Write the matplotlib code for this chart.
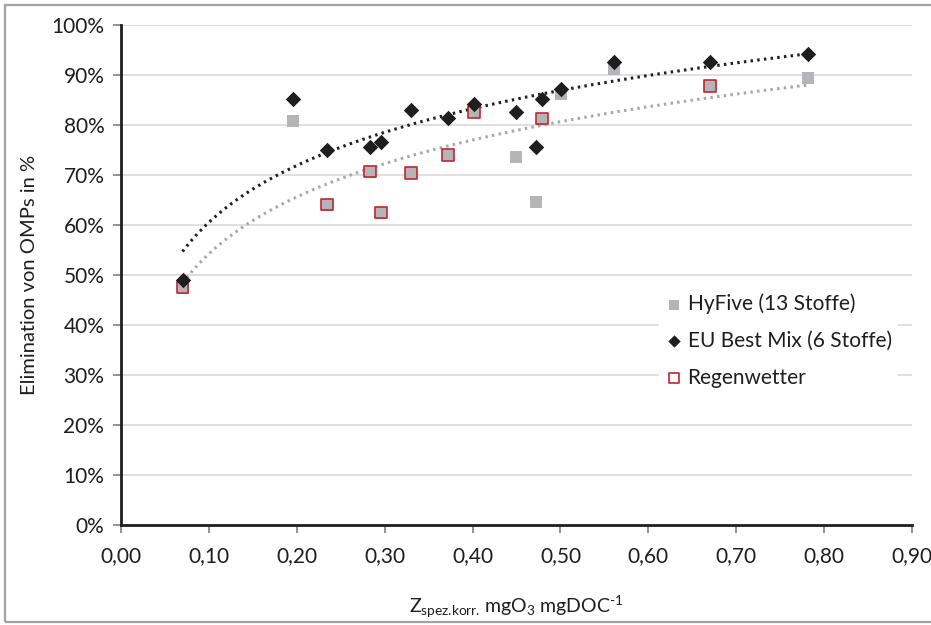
import numpy as np
import matplotlib
matplotlib.use("Agg")
import matplotlib.pyplot as plt
from matplotlib.patches import Rectangle
from matplotlib.ticker import FuncFormatter

plt.rcParams['font.family'] = ['Lato', 'DejaVu Sans']
plt.rcParams['mathtext.fontset'] = 'custom'
plt.rcParams['mathtext.rm'] = 'Lato'
plt.rcParams['mathtext.it'] = 'Lato'

# Ozondosis (spezifisch, korrigiert) und Elimination in %
hyfive_x = [0.070, 0.196, 0.234, 0.283, 0.296, 0.330, 0.372, 0.402, 0.449,
            0.472, 0.479, 0.501, 0.561, 0.670, 0.782]
hyfive_y = [47.5, 80.9, 64.1, 70.7, 62.5, 70.4, 74.0, 82.6, 73.7,
            64.7, 81.3, 86.3, 91.3, 87.8, 89.4]

eu_x = [0.070, 0.196, 0.234, 0.283, 0.296, 0.330, 0.372, 0.402, 0.449,
        0.472, 0.479, 0.501, 0.561, 0.670, 0.782]
eu_y = [49.1, 85.2, 75.1, 75.7, 76.7, 83.1, 81.5, 84.3, 82.7,
        75.7, 85.3, 87.3, 92.6, 92.6, 94.3]

regen_x = [0.070, 0.234, 0.283, 0.296, 0.330, 0.372, 0.402, 0.479, 0.670]
regen_y = [47.5, 64.1, 70.7, 62.5, 70.4, 74.0, 82.6, 81.3, 87.8]

x_ticks = np.arange(0, 0.91, 0.1)
y_ticks = np.arange(0, 101, 10)


def log_trend(x, y):
    # logarithmische Trendlinie y = a + b*ln(x)
    b, a = np.polyfit(np.log(x), y, 1)
    xs = np.linspace(min(x), max(x), 200)
    return xs, a + b * np.log(xs)


fig = plt.figure(figsize=(9.31, 6.25), dpi=100)
ax = fig.add_axes([121 / 931, 1 - 525 / 625, (912 - 121) / 931, 500 / 625])

# Rahmen um das Diagramm
fig.patches.append(Rectangle((5 / 931, 3 / 625), 1.0, 1 - 8 / 625,
                             transform=fig.transFigure, fill=False,
                             edgecolor='#a3a3a3', linewidth=1.6))

for yv in y_ticks[1:]:
    ax.axhline(yv, color='#dadada', linewidth=1.2, zorder=0)

ax.scatter(hyfive_x, hyfive_y, marker='s', s=72, color='#b4b4b9',
           linewidths=0, zorder=3, label='HyFive (13 Stoffe)')
ax.scatter(eu_x, eu_y, marker='D', s=62, color='#1e1e1e',
           linewidths=0, zorder=4, label='EU Best Mix (6 Stoffe)')
ax.scatter(regen_x, regen_y, marker='s', s=72, facecolor='none',
           edgecolor='#c4262e', linewidths=1.2, zorder=3, label='Regenwetter')

tx, ty = log_trend(eu_x, eu_y)
ax.plot(tx, ty, color='#1e1e1e', linewidth=2.2, linestyle=(0, (0.8, 1.4)), zorder=2)
tx, ty = log_trend(hyfive_x, hyfive_y)
ax.plot(tx, ty, color='#a8a8a8', linewidth=2.2, linestyle=(0, (0.8, 1.4)), zorder=2)

ax.set_xlim(0, 0.9)
ax.set_ylim(0, 100)
ax.set_xticks(x_ticks)
ax.set_yticks(y_ticks)
ax.xaxis.set_major_formatter(FuncFormatter(lambda v, p: f'{v:.2f}'.replace('.', ',')))
ax.yaxis.set_major_formatter(FuncFormatter(lambda v, p: f'{v:.0f}%'))
ax.tick_params(axis='both', direction='out', length=6, width=1.2, color='#7f7f7f',
               labelsize=15, labelcolor='#1e1e1e')
ax.tick_params(axis='x', pad=9)
ax.tick_params(axis='y', pad=6)

for side in ['top', 'right']:
    ax.spines[side].set_visible(False)
for side in ['left', 'bottom']:
    ax.spines[side].set_linewidth(2.0)
    ax.spines[side].set_color('#1e1e1e')

ax.set_ylabel('Elimination von OMPs in %', fontsize=14.5, color='#1e1e1e')
ax.yaxis.set_label_coords(-0.105, 0.5)
ax.set_xlabel(r'Z$_{\text{spez.korr.}}$ mgO$_3$ mgDOC$^{\text{-1}}$',
              fontsize=14, color='#1e1e1e')
ax.xaxis.set_label_coords(0.5, -0.138)

leg = ax.legend(loc='upper left', bbox_to_anchor=((649 - 121) / 791, (525 - 277) / 500),
                frameon=True, fancybox=False, edgecolor='none', facecolor='white',
                framealpha=1, fontsize=15, handlelength=0.8, handletextpad=0.25,
                labelspacing=0.8, borderpad=0.3, markerscale=0.8)
for t in leg.get_texts():
    t.set_color('#1e1e1e')

fig.savefig('out.png', dpi=100)
